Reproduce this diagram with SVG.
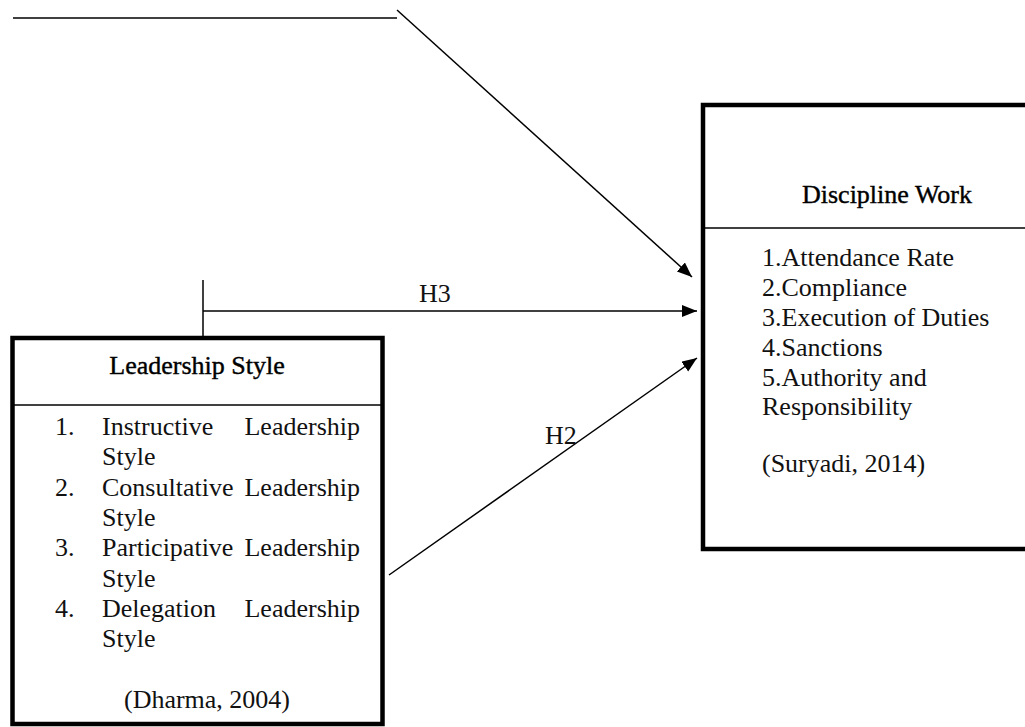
<svg xmlns="http://www.w3.org/2000/svg" width="1025" height="727" viewBox="0 0 1025 727">
<style>
.box{fill:#fff;stroke:#000;stroke-width:4.5}
.sep{stroke:#000;stroke-width:1.5}
.ln{stroke:#000;stroke-width:1.5;fill:none}
.t{font-family:"Liberation Serif","Times New Roman",serif;font-size:26px;fill:#111}
.h{font-family:"Liberation Serif","Times New Roman",serif;font-size:26px;fill:#000;stroke:#000;stroke-width:0.4}
.c{text-anchor:middle}
.e{text-anchor:end}
</style>
<defs>
<marker id="arr" markerUnits="userSpaceOnUse" markerWidth="16" markerHeight="14" refX="15" refY="6" orient="auto">
<path d="M0,0 L15,6 L0,12 Z" fill="#000"/>
</marker>
</defs>
<g id="connectors">
<line class="ln" x1="13" y1="18" x2="397" y2="18"/>
<line class="ln" x1="397" y1="10" x2="692" y2="277" marker-end="url(#arr)"/>
<line class="ln" x1="203" y1="280" x2="203" y2="338"/>
<line class="ln" x1="203" y1="311" x2="697" y2="311" marker-end="url(#arr)"/>
<line class="ln" x1="389" y1="575" x2="697" y2="358" marker-end="url(#arr)"/>
<text class="t" x="419" y="302">H3</text>
<text class="t" x="545" y="444">H2</text>
</g>
<g id="leadership-style">
<rect class="box" x="12.5" y="338" width="370" height="386"/>
<line class="sep" x1="12.5" y1="405" x2="382.5" y2="405"/>
<text class="h c" x="197" y="374">Leadership Style</text>
<text class="t" x="55" y="435">1.</text>
<text class="t" x="102" y="435">Instructive</text>
<text class="t e" x="360" y="435">Leadership</text>
<text class="t" x="102" y="465">Style</text>
<text class="t" x="55" y="496">2.</text>
<text class="t" x="102" y="496">Consultative</text>
<text class="t e" x="360" y="496">Leadership</text>
<text class="t" x="102" y="526">Style</text>
<text class="t" x="55" y="556">3.</text>
<text class="t" x="102" y="556">Participative</text>
<text class="t e" x="360" y="556">Leadership</text>
<text class="t" x="102" y="587">Style</text>
<text class="t" x="55" y="617">4.</text>
<text class="t" x="102" y="617">Delegation</text>
<text class="t e" x="360" y="617">Leadership</text>
<text class="t" x="102" y="647">Style</text>
<text class="t c" x="207" y="708">(Dharma, 2004)</text>
</g>
<g id="discipline-work">
<rect class="box" x="703" y="105" width="420" height="444"/>
<line class="sep" x1="703" y1="228" x2="1030" y2="228"/>
<text class="h c" x="887" y="203">Discipline Work</text>
<text class="t" x="762" y="266">1.Attendance Rate</text>
<text class="t" x="762" y="296">2.Compliance</text>
<text class="t" x="762" y="326">3.Execution of Duties</text>
<text class="t" x="762" y="356">4.Sanctions</text>
<text class="t" x="762" y="386">5.Authority and</text>
<text class="t" x="762" y="415">Responsibility</text>
<text class="t" x="762" y="472">(Suryadi, 2014)</text>
</g>
</svg>
